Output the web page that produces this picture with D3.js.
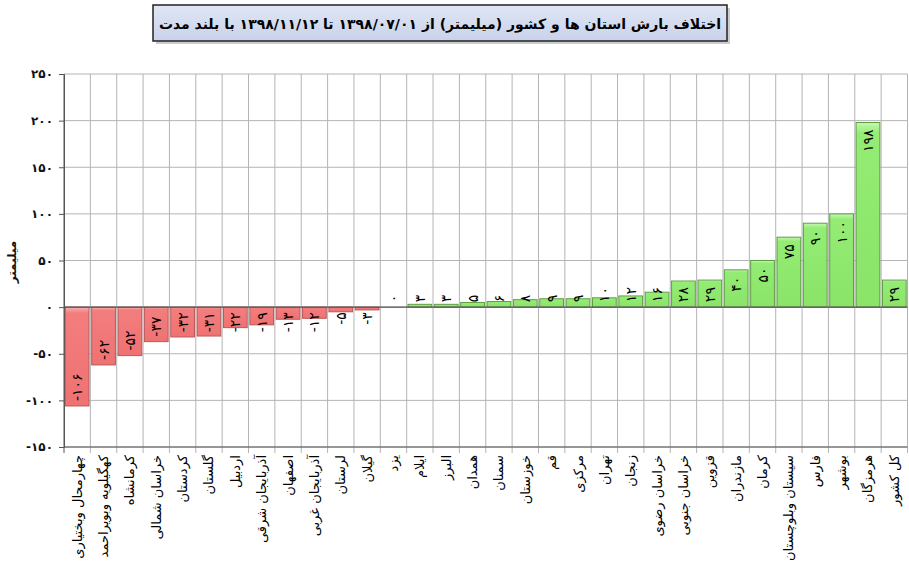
<!DOCTYPE html>
<html><head><meta charset="utf-8">
<script src="https://cdn.jsdelivr.net/npm/d3@7"></script>
<style>
html,body{margin:0;padding:0;background:#fff;}
svg{display:block;}
text{font-family:"DejaVu Sans",sans-serif;}
</style></head>
<body><svg id="chart" width="909" height="565"></svg>
<script>
const titleText = "اختلاف بارش استان ها و کشور (میلیمتر) از ۱۳۹۸/۰۷/۰۱ تا ۱۳۹۸/۱۱/۱۲ با بلند مدت";
const yAxisTitle = "میلیمتر";
const categories = ["چهارمحال وبختیاری","کهگیلویه وبویراحمد","کرمانشاه","خراسان شمالی","کردستان","گلستان","اردبیل","آذربایجان شرقی","اصفهان","آذربایجان غربی","لرستان","گیلان","یزد","ایلام","البرز","همدان","سمنان","خوزستان","قم","مرکزی","تهران","زنجان","خراسان رضوی","خراسان جنوبی","قزوین","مازندران","کرمان","سیستان وبلوچستان","فارس","بوشهر","هرمزگان","کل کشور"];
const values = [-106,-62,-52,-37,-32,-31,-22,-19,-13,-12,-5,-3,0,3,3,5,6,8,9,9,10,12,16,28,29,40,50,75,90,100,198,29];
const yTicks = [-150,-100,-50,0,50,100,150,200,250];

const fa = n => String(Math.abs(n)).replace(/[0-9]/g, d => "۰۱۲۳۴۵۶۷۸۹"[+d]);
const faSigned = n => (n < 0 ? "-" : "") + fa(n);

const svg = d3.select("#chart");
const L = 64, R = 907.5, T = 74, B = 447;
const x = d3.scaleBand().domain(categories).range([L, R]).paddingInner(0.1).paddingOuter(0.05);
const y = d3.scaleLinear().domain([-150, 250]).range([B, T]);
const step = (R - L) / categories.length;

const defs = svg.append("defs");
function grad(id, c0, c1, c2) {
  const g = defs.append("linearGradient").attr("id", id).attr("x1",0).attr("y1",0).attr("x2",0).attr("y2",1);
  g.append("stop").attr("offset","0%").attr("stop-color",c0);
  g.append("stop").attr("offset","6%").attr("stop-color",c1);
  g.append("stop").attr("offset","100%").attr("stop-color",c2);
}
grad("gRed", "#f9b0b0", "#f37d7d", "#ef7272");
grad("gGreen", "#c4f8b0", "#94ec74", "#8ae468");
grad("gTitle", "#e6ebf7", "#dfe5f4", "#c8d2ea");

// Title box
const tgrp = svg.append("g").attr("class","title");
tgrp.append("rect").attr("x",156).attr("y",8).attr("width",574).attr("height",36)
  .style("fill","#9a9a9a").style("fill-opacity",0.5);
tgrp.append("rect").attr("x",153).attr("y",5).attr("width",574).attr("height",36)
  .style("fill","url(#gTitle)").style("stroke","#222").style("stroke-width","1.5px");
tgrp.append("text").attr("x",440).attr("y",23.5).attr("text-anchor","middle").attr("dominant-baseline","central")
  .attr("font-size",14).attr("font-weight","bold").attr("fill","#000").text(titleText);

// Horizontal gridlines
svg.append("g").selectAll("line").data(yTicks).join("line")
  .attr("x1", L).attr("x2", R).attr("y1", d => y(d)).attr("y2", d => y(d))
  .attr("stroke", "#b4b4b4").attr("stroke-width", 1);

// Vertical gridlines (category boundaries) extending as ticks below axis
const bounds = d3.range(categories.length + 1);
svg.append("g").selectAll("line").data(bounds).join("line")
  .attr("x1", i => L + i * step).attr("x2", i => L + i * step)
  .attr("y1", T).attr("y2", B + 6)
  .attr("stroke", i => i === 0 ? "#555" : "#b4b4b4").attr("stroke-width", 1);

// Y axis
const yAxis = d3.axisLeft(y).tickValues(yTicks).tickSize(5).tickPadding(6).tickFormat(faSigned);
const ya = svg.append("g").attr("transform", `translate(${L},0)`).call(yAxis);
ya.select(".domain").attr("stroke", "#555");
ya.selectAll(".tick line").attr("stroke", "#555");
ya.selectAll("text").attr("font-size", 12).attr("font-weight", "bold").attr("fill", "#111")
  .attr("font-family", "DejaVu Sans").attr("direction","ltr");

// Y title
svg.append("text").attr("transform", "translate(12,262) rotate(-90)")
  .attr("text-anchor","middle").attr("dominant-baseline","central")
  .attr("font-size", 12).attr("font-weight","bold").attr("fill","#111").text(yAxisTitle);

// Bars
const data = categories.map((c, i) => ({c, v: values[i]}));
svg.append("g").selectAll("rect").data(data).join("rect")
  .attr("x", d => x(d.c))
  .attr("width", x.bandwidth())
  .attr("y", d => Math.min(y(d.v), y(0)))
  .attr("height", d => Math.abs(y(d.v) - y(0)))
  .attr("fill", d => d.v < 0 ? "url(#gRed)" : "url(#gGreen)")
  .attr("stroke", d => d.v < 0 ? "#b65a5a" : "#5f9e45")
  .attr("stroke-width", 1);

// Zero line & bottom axis line
svg.append("line").attr("x1", L).attr("x2", R).attr("y1", y(0)).attr("y2", y(0)).attr("stroke", "#555").attr("stroke-width", 1.2);
svg.append("line").attr("x1", L).attr("x2", R).attr("y1", B).attr("y2", B).attr("stroke", "#555").attr("stroke-width", 1.2);

// Value labels
const zy = y(0);
const vl = svg.append("g").selectAll("text").data(data).join("text")
  .attr("font-size", 14).attr("fill", "#000").attr("direction","ltr")
  .attr("dominant-baseline","central")
  .text(d => faSigned(d.v));
vl.each(function(d) {
  const len = this.getComputedTextLength();
  const cx = x(d.c) + x.bandwidth() / 2;
  let bottom;
  if (d.v > 0) {
    const top = Math.min(y(d.v) + 7, zy - 5 - len);
    bottom = top + len;
  } else if (d.v < 0) {
    bottom = Math.max(y(d.v) - 5, zy + 5 + len);
  } else {
    bottom = zy - 5;
  }
  d3.select(this).attr("text-anchor","start")
    .attr("transform", `translate(${cx},${bottom}) rotate(-90)`);
});

// Category labels
svg.append("g").selectAll("text").data(categories).join("text")
  .attr("font-size", 13).attr("fill", "#000").attr("text-anchor","end").attr("dominant-baseline","central")
  .attr("transform", c => `translate(${x(c) + x.bandwidth()/2},455) rotate(-90)`)
  .text(c => c);
</script></body></html>
